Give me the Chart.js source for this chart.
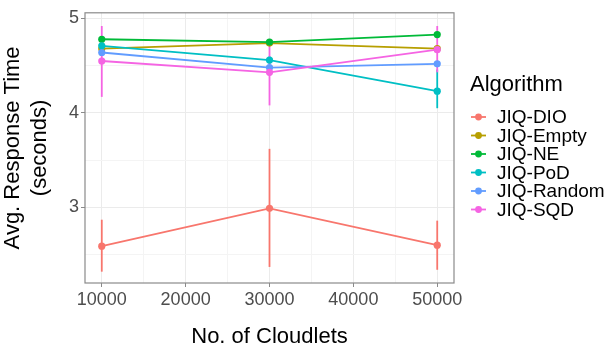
<!DOCTYPE html>
<html>
<head>
<meta charset="utf-8">
<script src="https://cdn.jsdelivr.net/npm/chart.js@4/dist/chart.umd.min.js"></script>
<style>
html,body{margin:0;padding:0;background:#fff;}
#wrap{width:616px;height:356px;position:relative;}
</style>
</head>
<body>
<div id="wrap"><canvas id="c" width="616" height="356"></canvas></div>
<script>
// ---- data ----
const cloudlets = [10000, 30000, 50000];
const algorithms = ["JIQ-DIO", "JIQ-Empty", "JIQ-NE", "JIQ-PoD", "JIQ-Random", "JIQ-SQD"];
const colors = ["#F8766D", "#B79F00", "#00BA38", "#00BFC4", "#619CFF", "#F564E3"];

const dioMean    = [2.59, 2.99, 2.60];
const emptyMean  = [4.68, 4.74, 4.68];
const neMean     = [4.78, 4.75, 4.83];
const podMean    = [4.71, 4.56, 4.23];
const randomMean = [4.64, 4.48, 4.52];
const sqdMean    = [4.55, 4.43, 4.67];

const dioLow    = [2.32, 2.37, 2.34];
const dioHigh   = [2.87, 3.62, 2.86];
const emptyLow  = [4.66, 4.72, 4.66];
const emptyHigh = [4.70, 4.76, 4.70];
const neLow     = [4.76, 4.73, 4.81];
const neHigh    = [4.80, 4.77, 4.85];
const podLow    = [4.68, 4.52, 4.05];
const podHigh   = [4.74, 4.60, 4.46];
const randomLow = [4.62, 4.46, 4.50];
const randomHigh= [4.66, 4.50, 4.54];
const sqdLow    = [4.17, 4.08, 4.43];
const sqdHigh   = [4.92, 4.75, 4.92];

const yTicksMajor = [3, 4, 5];
const xTicksMajor = [10000, 20000, 30000, 40000, 50000];

const means = [dioMean, emptyMean, neMean, podMean, randomMean, sqdMean];
const lows  = [dioLow, emptyLow, neLow, podLow, randomLow, sqdLow];
const highs = [dioHigh, emptyHigh, neHigh, podHigh, randomHigh, sqdHigh];

const FONT = "'Liberation Sans', Arial, sans-serif";

const datasets = algorithms.map((name, i) => ({
  label: name,
  data: cloudlets.map((x, j) => ({x: x, y: means[i][j]})),
  low: lows[i],
  high: highs[i],
  borderColor: colors[i],
  backgroundColor: colors[i],
  borderWidth: 1.8,
  pointRadius: 3.6,
  pointHoverRadius: 3.6,
  pointBorderWidth: 0,
  tension: 0,
  order: algorithms.length - i
}));

const near = (a, b, eps) => Math.abs(a - b) < eps;
const isMajorY = (v) => yTicksMajor.some(t => near(t, v, 1e-6));
const isMajorX = (v) => xTicksMajor.some(t => near(t, v, 1e-3));

const errorBars = {
  id: 'errorBars',
  beforeDatasetsDraw(chart) {
    const ctx = chart.ctx;
    const xs = chart.scales.x, ys = chart.scales.y;
    ctx.save();
    chart.data.datasets.forEach((ds) => {
      ctx.strokeStyle = ds.borderColor;
      ctx.lineWidth = 1.8;
      ds.data.forEach((p, j) => {
        const px = xs.getPixelForValue(p.x);
        ctx.beginPath();
        ctx.moveTo(px, ys.getPixelForValue(ds.low[j]));
        ctx.lineTo(px, ys.getPixelForValue(ds.high[j]));
        ctx.stroke();
      });
    });
    ctx.restore();
  },
  afterDraw(chart) {
    const ctx = chart.ctx;
    const a = chart.chartArea;
    ctx.save();
    ctx.strokeStyle = '#8a8a8a';
    ctx.lineWidth = 1.2;
    ctx.strokeRect(a.left, a.top, a.right - a.left, a.bottom - a.top);
    // legend
    ctx.fillStyle = '#000';
    ctx.font = '22px ' + FONT;
    ctx.textBaseline = 'middle';
    ctx.textAlign = 'left';
    ctx.fillText('Algorithm', 470, 85);
    ctx.font = '19px ' + FONT;
    chart.data.datasets.forEach((ds, i) => {
      const y = 117 + i * 18.5;
      ctx.strokeStyle = ds.borderColor;
      ctx.lineWidth = 1.8;
      ctx.beginPath();
      ctx.moveTo(471, y);
      ctx.lineTo(486, y);
      ctx.stroke();
      ctx.fillStyle = ds.borderColor;
      ctx.beginPath();
      ctx.arc(478.5, y, 3.4, 0, Math.PI * 2);
      ctx.fill();
      ctx.fillStyle = '#000';
      ctx.fillText(ds.label, 497, y + 1);
    });
    ctx.restore();
  }
};

new Chart(document.getElementById('c'), {
  type: 'line',
  data: { datasets: datasets },
  plugins: [errorBars],
  options: {
    responsive: false,
    animation: false,
    devicePixelRatio: 1,
    layout: { padding: { top: 5, right: 162, left: 0, bottom: 0 } },
    plugins: { legend: { display: false }, tooltip: { enabled: false } },
    scales: {
      x: {
        type: 'linear',
        min: 8000, max: 52000,
        afterFit(s) { s.height = 73; },
        afterBuildTicks(s) {
          const t = [];
          for (let v = 10000; v <= 50000; v += 5000) t.push({ value: v });
          s.ticks = t;
        },
        border: { display: false },
        grid: {
          color: (c) => (c.tick && isMajorX(c.tick.value)) ? '#ebebeb' : '#f4f4f4',
          tickColor: (c) => (c.tick && isMajorX(c.tick.value)) ? '#8a8a8a' : 'rgba(0,0,0,0)',
          tickLength: 4,
          lineWidth: 1
        },
        ticks: {
          autoSkip: false,
          maxRotation: 0,
          minRotation: 0,
          padding: 2,
          color: '#4d4d4d',
          font: { family: FONT, size: 18 },
          callback: (v) => isMajorX(v) ? String(Math.round(v)) : ''
        },
        title: {
          display: true,
          text: 'No. of Cloudlets',
          color: '#000',
          font: { family: FONT, size: 22 },
          padding: { top: 0, bottom: 6 }
        }
      },
      y: {
        type: 'linear',
        min: 2.2, max: 5.06,
        afterFit(s) { s.width = 85; },
        border: { display: false },
        grid: {
          color: (c) => (c.tick && isMajorY(c.tick.value)) ? '#ebebeb' : '#f4f4f4',
          tickColor: (c) => (c.tick && isMajorY(c.tick.value)) ? '#8a8a8a' : 'rgba(0,0,0,0)',
          tickLength: 4,
          lineWidth: 1
        },
        ticks: {
          stepSize: 0.5,
          includeBounds: false,
          autoSkip: false,
          padding: 2,
          color: '#4d4d4d',
          font: { family: FONT, size: 18 },
          callback: (v) => isMajorY(v) ? String(Math.round(v)) : ''
        },
        title: {
          display: true,
          text: ['Avg. Response Time', '(seconds)'],
          color: '#000',
          font: { family: FONT, size: 22 },
          padding: { top: 0, bottom: 0 }
        }
      }
    }
  }
});
</script>
</body>
</html>
